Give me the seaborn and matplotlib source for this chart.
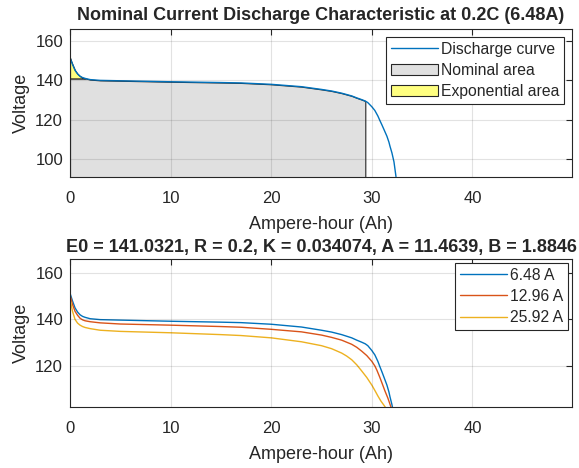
import numpy as np
import pandas as pd
import matplotlib
matplotlib.use("Agg")
import matplotlib.pyplot as plt
import seaborn as sns

# ==============================================================================
# DATA
# ==============================================================================
AH_648 = [0, 0.1, 0.25, 0.5, 0.75, 1.0, 1.25, 1.5, 2.0, 3, 5, 10, 15, 17, 20, 23, 25,
          26, 27, 28, 28.5, 29, 29.35, 29.6, 30, 30.3, 30.6, 30.8, 31.0, 31.2, 31.5,
          31.7, 31.8, 32.0, 32.2, 32.4]
V_648 = [151.4, 150.0, 148.0, 145.0, 143.2, 142.0, 141.3, 140.9, 140.3, 139.9, 139.7,
         139.2, 138.8, 138.6, 137.9, 136.7, 135.3, 134.5, 133.4, 132.0, 131.0, 130.1,
         129.4, 128.6, 126.5, 124.6, 121.8, 119.5, 117.3, 115.0, 111.5, 108.5, 106.5,
         103.0, 98.5, 91.0]

AH_1296 = [0, 0.1, 0.25, 0.5, 0.75, 1.0, 1.25, 1.5, 2.0, 3, 5, 10, 15, 17, 20, 23, 25,
           26, 27, 28, 28.5, 29, 29.5, 30, 30.3, 30.5, 30.8, 31.0, 31.3, 31.6, 31.9]
V_1296 = [150.5, 149.0, 146.5, 143.5, 141.8, 140.5, 139.8, 139.4, 139.0, 138.5, 138.0,
          137.5, 136.9, 136.6, 135.7, 134.6, 133.2, 132.2, 131.0, 129.2, 127.9, 126.2,
          124.3, 121.8, 119.8, 118.0, 114.8, 112.5, 109.0, 105.8, 102.0]

AH_2592 = [0, 0.1, 0.25, 0.5, 0.75, 1.0, 1.25, 1.5, 2.0, 3, 5, 10, 15, 17, 20, 23, 25,
           26, 27, 27.5, 28, 28.5, 29, 29.5, 30, 30.3, 30.6, 30.9, 31.2, 31.4]
V_2592 = [149.0, 146.8, 143.5, 140.0, 138.4, 137.5, 136.9, 136.5, 136.0, 135.3, 134.8,
          134.2, 133.4, 133.0, 132.0, 130.3, 128.6, 127.3, 125.4, 124.1, 122.5, 120.3,
          117.6, 114.8, 111.5, 109.2, 106.8, 104.6, 102.8, 101.5]

CURRENT_LABELS = ["6.48 A", "12.96 A", "25.92 A"]

# exponential / nominal zone limits
Q_EXP, V_EXP = 1.5, 140.9
Q_NOM, V_NOM = 29.35, 129.4

TITLE_TOP = "Nominal Current Discharge Characteristic at 0.2C (6.48A)"
TITLE_BOTTOM = "E0 = 141.0321, R = 0.2, K = 0.034074, A = 11.4639, B = 1.8846"

COLORS = ["#0072BD", "#D95319", "#EDB120"]
AXC = "#262626"

# ==============================================================================
# PLOT
# ==============================================================================
sns.set_style("white")
plt.rcParams['font.family'] = ['Liberation Sans', 'DejaVu Sans']

fig = plt.figure(figsize=(5.79, 4.68), dpi=100)
ax1 = fig.add_axes([0.1209, 0.6218, 0.8671, 0.3162])
ax2 = fig.add_axes([0.1209, 0.1303, 0.8671, 0.3163])

x = np.array(AH_648)
y = np.array(V_648)

# top panel
sns.lineplot(x=x, y=y, ax=ax1, color=COLORS[0], lw=1, label="Discharge curve")

mask = (x > Q_EXP) & (x < Q_NOM)
xn = np.concatenate([[0, Q_EXP], x[mask], [Q_NOM]])
yn = np.concatenate([[V_EXP, V_EXP], y[mask], [V_NOM]])
ax1.fill_between(xn, yn, 60, facecolor="#e0e0e0", edgecolor=AXC, lw=0.8,
                 label="Nominal area")

me = x < Q_EXP
xe = np.concatenate([x[me], [Q_EXP]])
ye = np.concatenate([y[me], [V_EXP]])
ax1.fill_between(xe, ye, V_EXP, facecolor="#ffff80", edgecolor=AXC, lw=0.8,
                 label="Exponential area")

ax1.set_ylim(90.8, 166)
ax1.set_yticks([100, 120, 140, 160])
ax1.set_title(TITLE_TOP, fontsize=13, fontweight="bold", pad=6.5)

# bottom panel
for xs, ys, lab, c in zip([AH_648, AH_1296, AH_2592], [V_648, V_1296, V_2592],
                          CURRENT_LABELS, COLORS):
    sns.lineplot(x=xs, y=ys, ax=ax2, color=c, lw=1, label=lab)

ax2.set_ylim(102, 166.2)
ax2.set_yticks([120, 140, 160])
ax2.set_title(TITLE_BOTTOM, fontsize=13, fontweight="bold", pad=5)

for ax, bpad in ((ax1, 0.5), (ax2, 0.25)):
    ax.set_xlim(0, 49.9)
    ax.set_xticks([0, 10, 20, 30, 40])
    ax.set_xlabel("Ampere-hour (Ah)", fontsize=13, color=AXC, labelpad=7)
    ax.set_ylabel("Voltage", fontsize=13, color=AXC, labelpad=4)
    ax.grid(True, color=AXC, alpha=0.13, lw=0.8)
    ax.set_axisbelow(False)
    ax.tick_params(direction="in", top=True, right=True, length=4, width=0.8,
                   color=AXC, labelcolor=AXC, labelsize=12)
    ax.tick_params(axis="x", pad=10)
    ax.tick_params(axis="y", pad=5)
    for sp in ax.spines.values():
        sp.set_color(AXC)
        sp.set_linewidth(0.8)
    leg = ax.legend(loc="upper right", fontsize=11.3, frameon=True, fancybox=False,
                    framealpha=1, edgecolor=AXC, borderpad=0.3, labelspacing=0.4,
                    handlelength=3.0, handletextpad=0.2, borderaxespad=bpad)
    leg.get_frame().set_linewidth(0.8)
    for t in leg.get_texts():
        t.set_color(AXC)

fig.savefig("out.png", dpi=100)
